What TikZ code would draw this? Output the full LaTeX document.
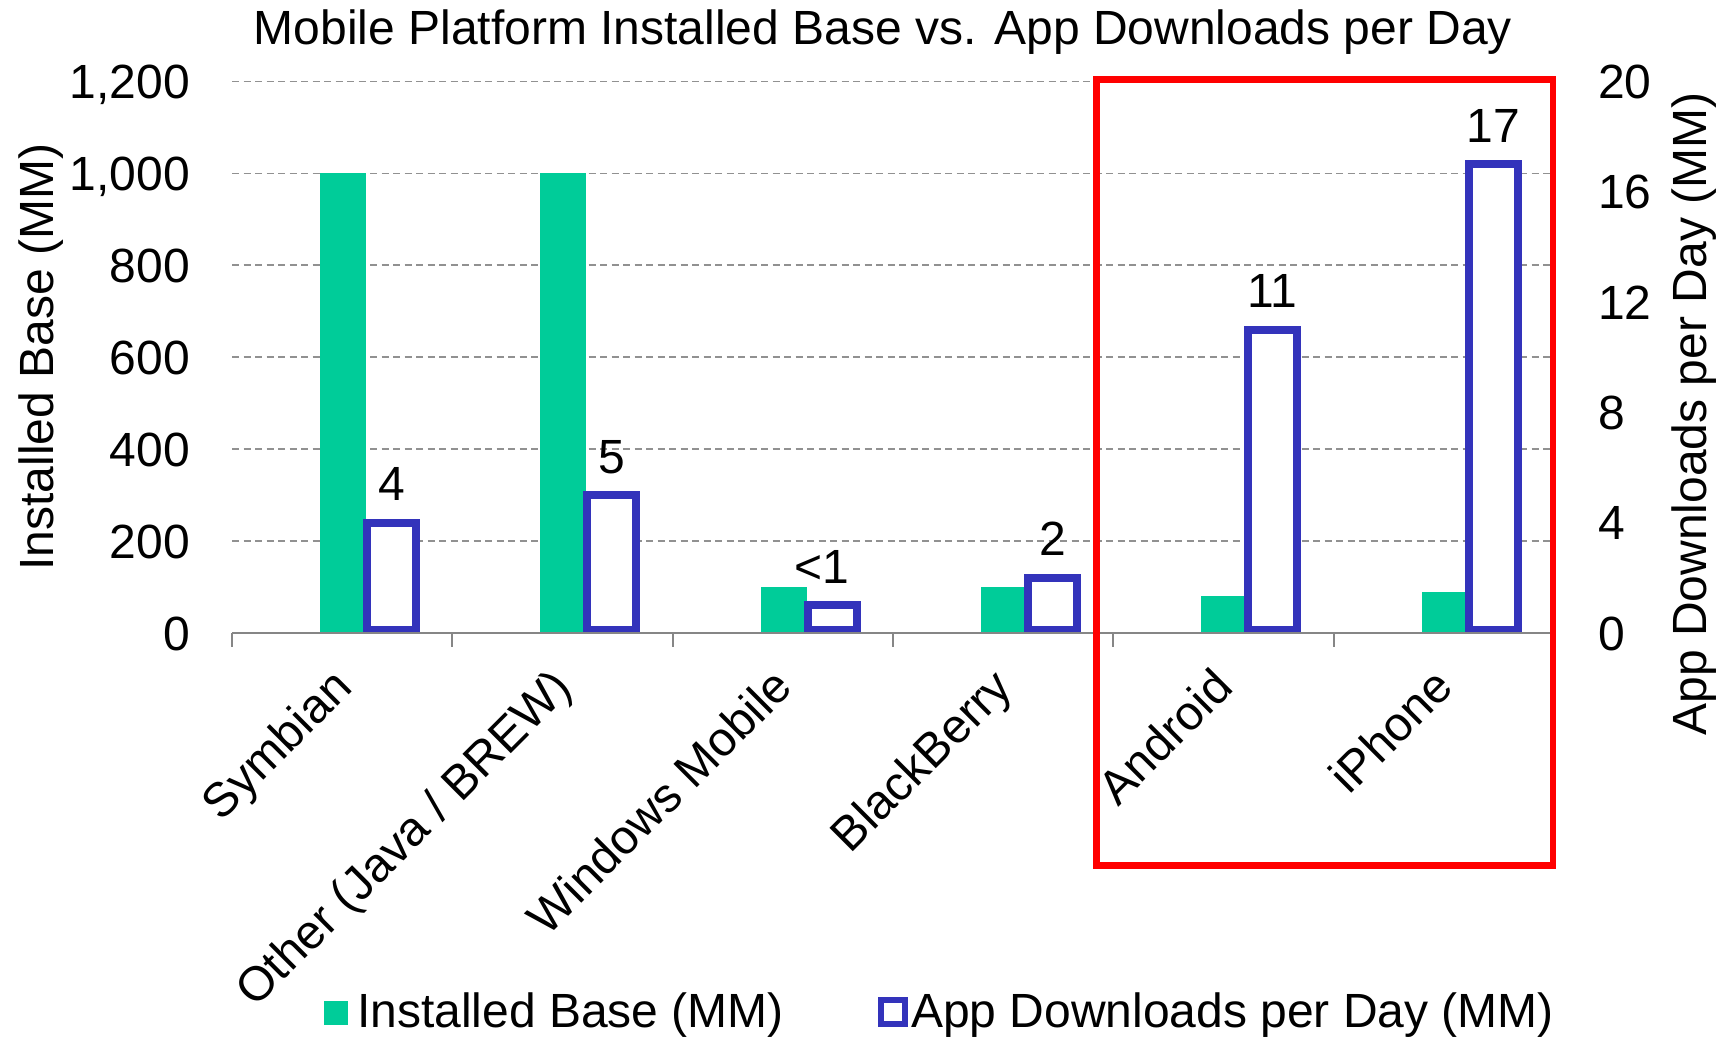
\documentclass[tikz,border=0pt]{standalone}
\usepackage{fontspec}
\setmainfont{Liberation Sans}
\definecolor{barg}{RGB}{0,204,153}
\definecolor{barb}{RGB}{51,51,187}
\definecolor{gridc}{RGB}{145,145,145}
\definecolor{axisc}{RGB}{134,134,134}
\begin{document}
\begin{tikzpicture}[x=1pt,y=-1pt,
  font=\fontsize{48}{58}\selectfont,
  gridline/.style={gridc, line width=1.8pt, dash pattern=on 7pt off 4.5pt},
  axisline/.style={axisc, line width=2pt},
  greenbar/.style={fill=barg, draw=none},
  bluebar/.style={draw=barb, line width=8pt, fill=white, line join=miter},
  redframe/.style={draw=red, line width=6.5pt},
  txt/.style={inner sep=0pt, outer sep=0pt},
  catlabel/.style={txt, rotate=45, anchor=base east}
]
\useasboundingbox[fill=white] (0,0) rectangle (1726,1037);

% title
\node[txt, anchor=base] (title) at (883,44) {Mobile Platform Installed Base vs. App Downloads per Day};

% gridlines and left tick labels
\foreach \v in {1,...,6} {
  \draw[gridline] (232,633-91.92*\v) -- (1552,633-91.92*\v);
}
\foreach \v/\t in {0/0, 1/200, 2/400, 3/600, 4/800, 5/{1,000}, 6/{1,200}} {
  \node[txt, anchor=base east] (lt\v) at (190,650-91.92*\v) {\t};
}
% right tick labels
\foreach \v in {0,4,8,12,16,20} {
  \node[txt, anchor=base west] (rt\v) at (1598,650-27.575*\v) {\v};
}

% axis titles
\node[txt, rotate=90, anchor=base] (ltitle) at (53,357) {Installed Base (MM)};
\node[txt, rotate=90, anchor=base] (rtitle) at (1706,414) {App Downloads per Day (MM)};

% bars
\foreach \k/\g/\b/\lab/\dx in {0/1000/4/4/0, 1/1000/5/5/0, 2/100/1/{<1}/-10, 3/100/2/2/0, 4/80/11/11/0, 5/90/17/17/0} {
  \pgfmathsetmacro\c{232+220.3*\k}
  \pgfmathsetmacro\gt{633-0.4596*\g}
  \pgfmathsetmacro\bt{633-27.575*\b}
  \fill[greenbar] (\c+88,633) rectangle (\c+134,\gt);
  \draw[bluebar] (\c+135,630) rectangle (\c+184,\bt);
  \node[txt, anchor=base] (val\k) at (\c+159.5+\dx,\bt-22) {\lab};
}

% category axis
\draw[axisline] (232,633) -- (1552,633);
\foreach \k in {0,...,5} {
  \draw[axisline] (232+220.3*\k,633) -- (232+220.3*\k,647);
}

% category labels
\foreach \k/\lab in {0/Symbian, 1/{Other (Java / BREW)}, 2/Windows Mobile, 3/BlackBerry, 4/Android, 5/iPhone} {
  \node[catlabel] (cat\k) at (232+220.3*\k+122,690) {\lab};
}

% highlight frame
\draw[redframe] (1096.5,79.5) rectangle (1553,865.5);

% legend
\fill[greenbar] (324,1001) rectangle (348,1025);
\node[txt, anchor=base west] (leg1) at (357,1027) {Installed Base (MM)};
\draw[draw=barb, line width=6pt, fill=white] (881,1000) rectangle (905,1024);
\node[txt, anchor=base west] (leg2) at (911,1027) {App Downloads per Day (MM)};
\end{tikzpicture}
\end{document}
